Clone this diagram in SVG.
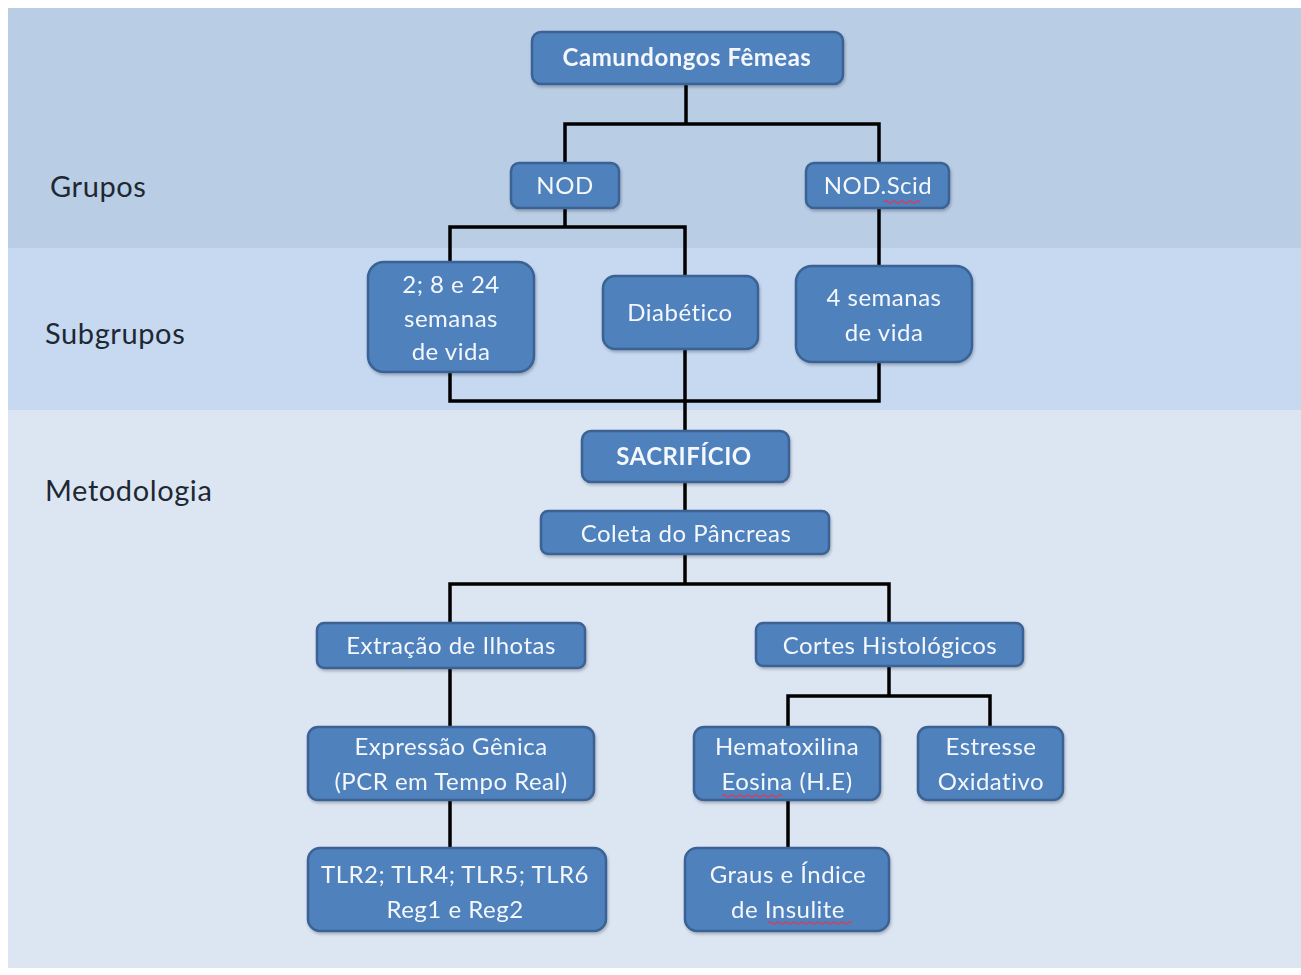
<svg xmlns="http://www.w3.org/2000/svg" width="1301" height="975" viewBox="0 0 1301 975">
<style>
.nd{fill:#4F81BD;stroke:#3A6294;stroke-width:2.5}
.t{font-family:Lato,"Open Sans","Liberation Sans",sans-serif;font-size:24px;letter-spacing:0.5px;fill:#F4F7FB;text-anchor:middle}
.b{font-weight:bold}
.lbl{font-family:Lato,"Open Sans","Liberation Sans",sans-serif;font-size:29px;letter-spacing:0.6px;fill:#1E2833}
.c{fill:none;stroke:#000;stroke-width:3.5;stroke-linejoin:miter}
.sq{fill:none;stroke:#D04060;stroke-width:1.2}
</style>
<defs>
<filter id="sh" x="-10%" y="-10%" width="130%" height="140%"><feDropShadow dx="1" dy="2" stdDeviation="1.5" flood-color="#000" flood-opacity="0.25"/></filter>
</defs>
<rect width="1301" height="975" fill="#fff"/>
<rect x="8" y="8" width="1293" height="240" fill="#B9CDE5"/>
<rect x="8" y="248" width="1293" height="162" fill="#C6D9F1"/>
<rect x="8" y="410" width="1293" height="558" fill="#DCE6F2"/>
<g id="labels">
<text class="lbl" x="50" y="197">Grupos</text>
<text class="lbl" x="45" y="344">Subgrupos</text>
<text class="lbl" x="45" y="501">Metodologia</text>
</g>
<g id="connectors">
<path class="c" d="M686 84V124M565 163V124H879V163"/>
<path class="c" d="M565 208V227M450 262V227H685V276"/>
<path class="c" d="M879 208V266"/>
<path class="c" d="M450 372V401H879V362M685 349V431"/>
<path class="c" d="M685 482V511"/>
<path class="c" d="M685 554V584M450 623V584H889V623"/>
<path class="c" d="M450 668V727"/>
<path class="c" d="M450 800V848"/>
<path class="c" d="M889 666V696M788 727V696H990V727"/>
<path class="c" d="M788 800V848"/>
</g>
<g id="n-camundongos" filter="url(#sh)"><rect class="nd" x="532" y="32" width="311" height="52" rx="9"/><text class="t b" x="687" y="66">Camundongos Fêmeas</text></g>
<g id="n-nod" filter="url(#sh)"><rect class="nd" x="511" y="163" width="108" height="45" rx="8"/><text class="t" x="565" y="194">NOD</text></g>
<g id="n-nodscid" filter="url(#sh)"><rect class="nd" x="806" y="163" width="143" height="45" rx="8"/><text class="t" x="878" y="194">NOD.Scid</text><path class="sq" d="M884 202q2 -2 4 0t4 0t4 0t4 0t4 0t4 0t4 0t4 0t4 0"/></g>
<g id="n-sub1" filter="url(#sh)"><rect class="nd" x="368" y="262" width="166" height="110" rx="16"/><text class="t" x="451" y="293">2;  8 e 24</text><text class="t" x="451" y="327">semanas</text><text class="t" x="451" y="360">de vida</text></g>
<g id="n-diabetico" filter="url(#sh)"><rect class="nd" x="603" y="276" width="155" height="73" rx="12"/><text class="t" x="680" y="321">Diabético</text></g>
<g id="n-4semanas" filter="url(#sh)"><rect class="nd" x="796" y="266" width="176" height="96" rx="16"/><text class="t" x="884" y="306">4 semanas</text><text class="t" x="884" y="341">de vida</text></g>
<g id="n-sacrificio" filter="url(#sh)"><rect class="nd" x="582" y="431" width="207" height="51" rx="9"/><text class="t b" x="684" y="465">SACRIFÍCIO</text></g>
<g id="n-coleta" filter="url(#sh)"><rect class="nd" x="541" y="511" width="288" height="43" rx="7"/><text class="t" x="686" y="542">Coleta do Pâncreas</text></g>
<g id="n-extracao" filter="url(#sh)"><rect class="nd" x="317" y="623" width="268" height="45" rx="7"/><text class="t" x="451" y="654">Extração de  Ilhotas</text></g>
<g id="n-cortes" filter="url(#sh)"><rect class="nd" x="756" y="623" width="267" height="43" rx="7"/><text class="t" x="890" y="654">Cortes  Histológicos</text></g>
<g id="n-expressao" filter="url(#sh)"><rect class="nd" x="308" y="727" width="286" height="73" rx="10"/><text class="t" x="451" y="755">Expressão  Gênica</text><text class="t" x="451" y="790">(PCR  em Tempo Real)</text></g>
<g id="n-hema" filter="url(#sh)"><rect class="nd" x="694" y="727" width="186" height="73" rx="10"/><text class="t" x="787" y="755">Hematoxilina</text><text class="t" x="787" y="790">Eosina  (H.E)</text><path class="sq" d="M722 796q2 -2 4 0t4 0t4 0t4 0t4 0t4 0t4 0t4 0t4 0t4 0t4 0t4 0t4 0t4 0t4 0"/></g>
<g id="n-estresse" filter="url(#sh)"><rect class="nd" x="918" y="727" width="145" height="73" rx="10"/><text class="t" x="991" y="755">Estresse</text><text class="t" x="991" y="790">Oxidativo</text></g>
<g id="n-tlr" filter="url(#sh)"><rect class="nd" x="308" y="848" width="298" height="83" rx="12"/><text class="t" x="455" y="883">TLR2; TLR4; TLR5; TLR6</text><text class="t" x="455" y="918">Reg1 e Reg2</text></g>
<g id="n-graus" filter="url(#sh)"><rect class="nd" x="685" y="848" width="204" height="83" rx="12"/><text class="t" x="788" y="883">Graus e Índice</text><text class="t" x="788" y="918">de Insulite</text><path class="sq" d="M768 923q2 -2 4 0t4 0t4 0t4 0t4 0t4 0t4 0t4 0t4 0t4 0t4 0t4 0t4 0t4 0t4 0t4 0t4 0t4 0t4 0t4 0t4 0"/></g>
</svg>
